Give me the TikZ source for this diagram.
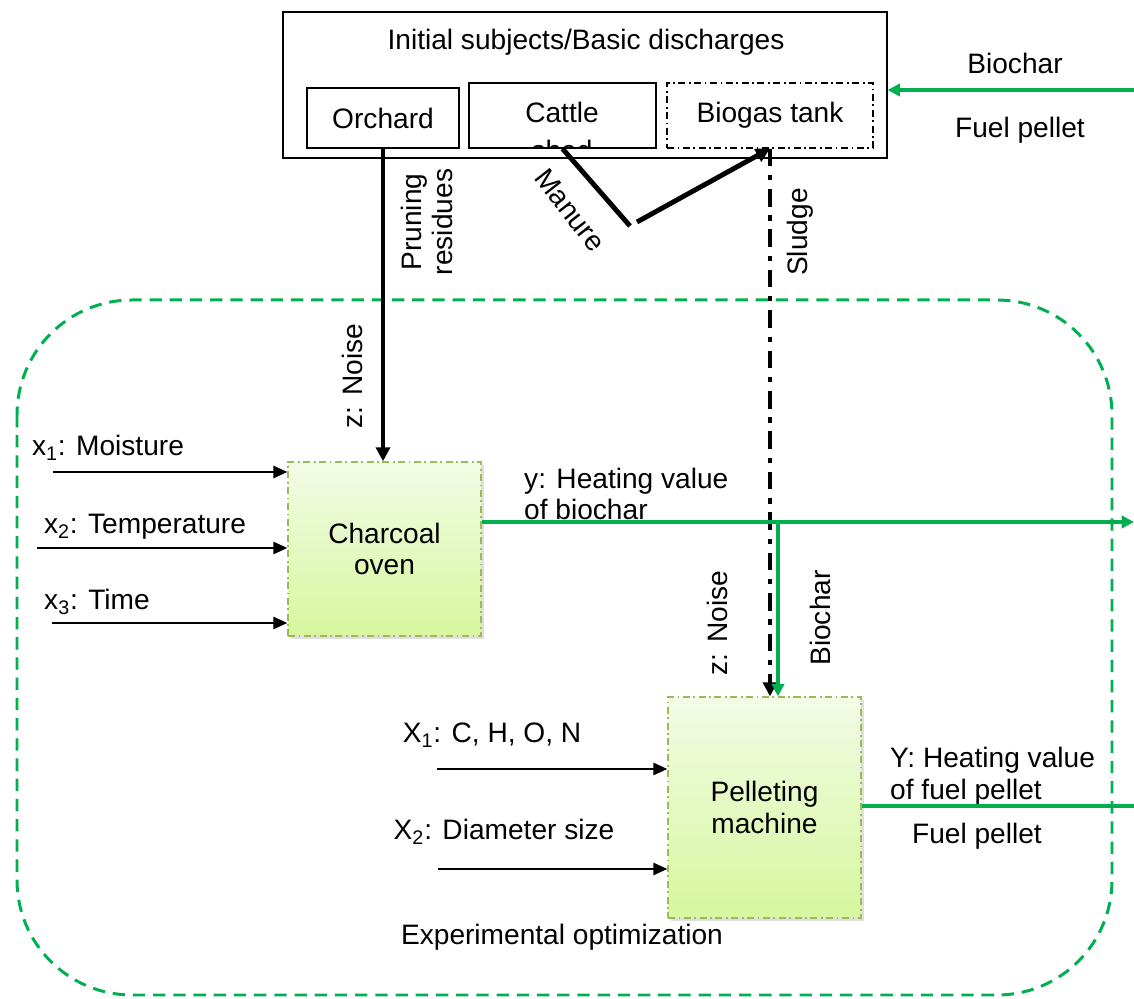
\documentclass[tikz,border=0pt]{standalone}
\usepackage{fontspec}
\setmainfont{Liberation Sans}
\usetikzlibrary{arrows.meta,shadows}
\definecolor{frgreen}{RGB}{0,176,80}
\definecolor{boxline}{RGB}{155,187,89}
\definecolor{boxtop}{RGB}{243,251,230}
\definecolor{boxbot}{RGB}{214,247,158}
\begin{document}
\begin{tikzpicture}[x=0.02cm,y=-0.02cm,
    every node/.style={font=\fontsize{16}{18}\selectfont},
    plain/.style={draw,line width=0.8pt,inner sep=0pt},
    dashdot/.style={dash pattern=on 4pt off 2pt on 1pt off 2pt},
    proc/.style={draw=boxline,dashdot,line width=0.8pt,top color=boxtop,bottom color=boxbot,
        drop shadow={opacity=0.25,shadow xshift=1.5pt,shadow yshift=-1.5pt},align=center,inner sep=0pt},
    inarrow/.style={line width=1.1pt,-{Triangle[length=8pt,width=7pt]}},
    flow/.style={line width=2.8pt,-{Triangle[length=8pt,width=8pt]}},
    grflow/.style={draw=frgreen,line width=2.1pt,-{Triangle[length=7pt,width=7pt]}}]
			\useasboundingbox (0,0) rectangle (1134,999);
			\draw[frgreen,line width=1.7pt,dash pattern=on 7pt off 4.5pt,rounded corners=2.3cm] (17,300) rectangle (1112,995);

			\node[plain,minimum width=12.08cm,minimum height=2.92cm] (IS) at (585,85) {};
			\node (IT) at (586,42) {Initial subjects/Basic discharges};
			\node[plain,minimum width=3.04cm,minimum height=1.2cm] (OR) at (383,118) {Orchard};
			\node[plain,minimum width=3.74cm,minimum height=1.3cm] (CS) at (562.5,115.5) {};
			\node (CT) at (562,112) {Cattle};
			\begin{scope}
				\clip (469,84) rectangle (656,147);
				\node[anchor=base] (CB) at (562,161) {shed};
			\end{scope}
			\node[draw,dashdot,line width=0.7pt,minimum width=4.12cm,minimum height=1.3cm] (BT) at (770,115.5) {Biogas tank};
			\node (BC) at (1015,63) {Biochar};
			\node (FP) at (1020,130) {Fuel pellet};

			\node[proc,minimum width=3.86cm,minimum height=3.48cm] (CO) at (384.5,549) {Charcoal\\oven};
			\node[proc,minimum width=3.86cm,minimum height=4.42cm] (PM) at (764.5,807.5) {Pelleting\\machine};

			\node[rotate=90,align=center] (PR) at (427,222) {Pruning\\residues};
			\node[rotate=90] (ZN1) at (352,376) {z: Noise};
			\node[rotate=-52] (MN) at (570,210) {Manure};
			\node[rotate=90] (SL) at (800,232) {Sludge};
			\node[rotate=90] (ZN2) at (717,623) {z: Noise};
			\node[rotate=90] (BI) at (820,618) {Biochar};

			\node (L1) at (108,448) {x\textsubscript{1}: Moisture};
			\node (L2) at (145,527) {x\textsubscript{2}: Temperature};
			\node (L3) at (97,602) {x\textsubscript{3}: Time};
			\node (K1) at (492,735) {X\textsubscript{1}: C, H, O, N};
			\node (K2) at (504,832) {X\textsubscript{2}: Diameter size};
			\node[anchor=west,align=left] (YL) at (518,494) {y: Heating value\\of biochar};
			\node[anchor=west,align=left] (ZL) at (884,776) {Y: Heating value\\of fuel pellet};
			\node (FO) at (977,836) {Fuel pellet};
			\node (EO) at (562,937) {Experimental optimization};

			\coordinate (x1s) at (53,472);
			\coordinate (x2s) at (37,548);
			\coordinate (x3s) at (52,623);
			\coordinate (X1s) at (437,769);
			\coordinate (X2s) at (438,869);
			\coordinate (mA) at (630,226);
			\coordinate (mB) at (637,222);
			\coordinate (bc) at (1134,90);
			\coordinate (yE) at (1134,522);
			\coordinate (yB) at (778,522);
			\coordinate (YE) at (1134,806);

			\draw[inarrow] (x1s)--(x1s -| CO.west);
			\draw[inarrow] (x2s)--(x2s -| CO.west);
			\draw[inarrow] (x3s)--(x3s -| CO.west);
			\draw[inarrow] (X1s)--(X1s -| PM.west);
			\draw[inarrow] (X2s)--(X2s -| PM.west);

			\draw[flow] (OR.south)--(OR.south |- CO.north);
			\draw[line width=2.8pt] (CS.south)--(mA);
			\draw[flow] (mB)--(BT.south);
			\draw[flow,dash pattern=on 10pt off 5pt on 3pt off 5pt] (BT.south)--(BT.south |- PM.north);

			\draw[grflow] (bc)--(bc -| IS.east);
			\draw[grflow] (yE -| CO.east)--(yE);
			\draw[grflow] (yB)--(yB |- PM.north);
			\draw[frgreen,line width=2.1pt] (YE -| PM.east)--(YE);
		    \end{tikzpicture}
\end{document}
